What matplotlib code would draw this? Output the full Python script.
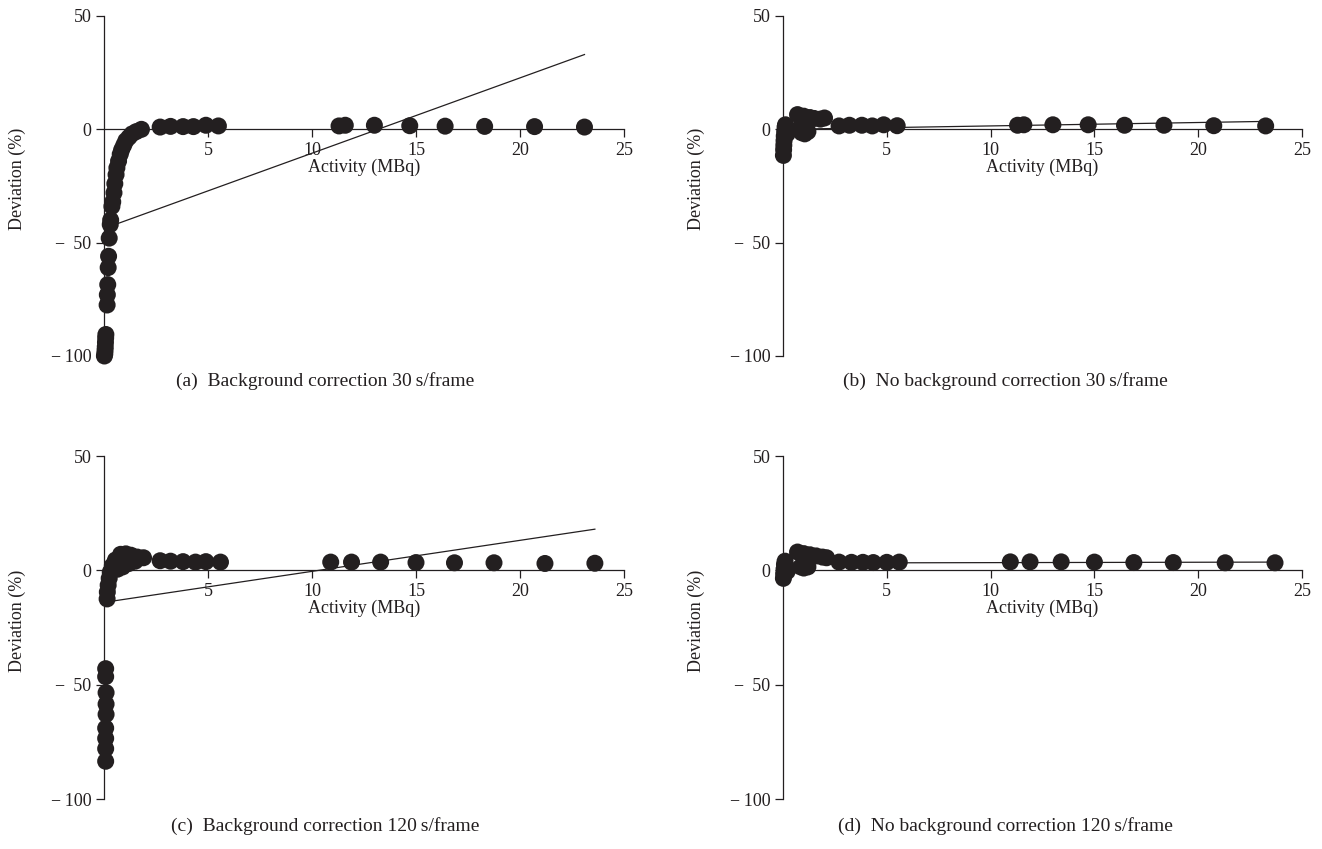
import matplotlib
matplotlib.use('Agg')
import matplotlib.pyplot as plt

plt.rcParams['font.family'] = ['Liberation Serif', 'DejaVu Serif']
plt.rcParams['axes.unicode_minus'] = True

# ---------------- data ----------------
x_ticks = [5, 10, 15, 20, 25]
y_ticks = [50, 0, -50, -100]
y_tick_labels = ['50', '0', '\u2212\u2009 50', '\u2212\u2009100']

# (a) Background correction 30 s/frame
a_x = [0.02, 0.04, 0.05, 0.06, 0.07, 0.08, 0.09,
       0.15, 0.16, 0.18, 0.20, 0.22, 0.25, 0.30, 0.32, 0.38, 0.42, 0.48, 0.52,
       0.58, 0.62, 0.70, 0.78, 0.85, 0.95, 1.05, 1.20, 1.35, 1.55, 1.80,
       2.7, 3.2, 3.8, 4.3, 4.9, 5.5,
       11.3, 11.6, 13.0, 14.7, 16.4, 18.3, 20.7, 23.1]
a_y = [-100, -99, -97.5, -96, -94, -92, -90.5,
       -77.5, -73, -68.5, -61, -56, -48, -42, -40, -34, -32, -28, -24,
       -20, -17, -14, -11, -9, -7, -5, -3.5, -2, -1, 0,
       1.0, 1.3, 1.2, 1.2, 1.8, 1.5,
       1.5, 1.8, 1.8, 1.6, 1.4, 1.3, 1.2, 1.0]
a_trend_x = [0.02, 23.1]
a_trend_y = [-43.7, 33.0]

# (b) No background correction 30 s/frame
b_x = [0.02, 0.03, 0.04, 0.05, 0.06, 0.08, 0.10, 0.12, 0.20, 0.15,
       0.7, 1.0, 1.3, 1.5, 1.8, 2.0,
       0.9, 1.05, 1.2, 0.8,
       2.7, 3.2, 3.8, 4.3, 4.85, 5.5,
       11.3, 11.6, 13.0, 14.7, 16.45, 18.35, 20.75, 23.25]
b_y = [-11.5, -9, -7, -5, -3, -1, 1, 2, -2, 0,
       6.5, 5.8, 5.2, 4.8, 4.5, 5.0,
       -1.5, -2, -1, 0.5,
       1.5, 1.8, 1.8, 1.5, 2.0, 1.6,
       1.8, 2.0, 2.0, 2.0, 1.8, 1.8, 1.6, 1.5]
b_trend_x = [0.02, 23.25]
b_trend_y = [0.0, 3.5]

# (c) Background correction 120 s/frame
c_x = [0.08, 0.08, 0.10, 0.10, 0.10, 0.08, 0.08, 0.08, 0.08,
       0.15, 0.16, 0.20, 0.25, 0.30, 0.40, 0.55, 0.80, 1.05, 1.30, 1.60, 1.90,
       0.90, 0.65, 1.20, 1.50,
       2.7, 3.2, 3.8, 4.4, 4.9, 5.6,
       10.9, 11.9, 13.3, 15.0, 16.85, 18.75, 21.2, 23.6]
c_y = [-43, -46.5, -53.5, -58.5, -63, -69, -73.5, -78, -83.5,
       -12.5, -9.5, -6.5, -3.5, -0.8, 2, 4.5, 7, 7.2, 6.6, 5.8, 5.5,
       1.5, 0.5, 3, 4,
       4.2, 4.0, 3.8, 3.6, 3.8, 3.6,
       3.6, 3.6, 3.6, 3.4, 3.3, 3.3, 3.0, 3.1]
c_trend_x = [0.08, 23.6]
c_trend_y = [-13.9, 18.0]

# (d) No background correction 120 s/frame
d_x = [0.02, 0.03, 0.05, 0.07, 0.10, 0.15, 0.20,
       0.7, 1.0, 1.3, 1.6, 1.9, 2.1,
       0.85, 1.0, 1.2,
       2.7, 3.3, 3.85, 4.35, 5.0, 5.6,
       10.95, 11.9, 13.4, 15.0, 16.9, 18.8, 21.3, 23.7]
d_y = [-3.5, -1.5, 0.5, 2.5, 4, 1, -0.5,
       8, 7.3, 6.8, 6.3, 5.8, 5.5,
       1.5, 1.0, 1.5,
       3.6, 3.5, 3.5, 3.4, 3.5, 3.6,
       3.7, 3.7, 3.7, 3.6, 3.4, 3.4, 3.3, 3.3]
d_trend_x = [0.02, 23.7]
d_trend_y = [3.2, 3.6]

captions = ['(a)  Background correction 30\u2009s/frame',
            '(b)  No background correction 30\u2009s/frame',
            '(c)  Background correction 120\u2009s/frame',
            '(d)  No background correction 120\u2009s/frame']

# ---------------- layout ----------------
W, H = 1322, 849
fig = plt.figure(figsize=(W / 100, H / 100), dpi=100)

INK = '#231f20'
FS = 13


def panel(rect, xs, ys, tx, ty, caption, cap_xy):
    left, right, top, bottom = rect
    ax = fig.add_axes([left / W, 1 - bottom / H, (right - left) / W, (bottom - top) / H])
    ax.plot(tx, ty, color=INK, lw=0.9, zorder=2, clip_on=False)
    ax.scatter(xs, ys, s=150, color=INK, edgecolors='none', zorder=3, clip_on=False)
    ax.set_xlim(0, 25)
    ax.set_ylim(-100, 50)
    for s in ('top', 'right'):
        ax.spines[s].set_visible(False)
    ax.spines['bottom'].set_position(('data', 0))
    for s in ('left', 'bottom'):
        ax.spines[s].set_linewidth(0.9)
        ax.spines[s].set_color(INK)
    ax.set_xticks(x_ticks)
    ax.set_xticklabels([str(t) for t in x_ticks])
    ax.set_yticks(y_ticks)
    ax.set_yticklabels(y_tick_labels)
    ax.tick_params(axis='both', direction='out', length=6, width=0.9, color=INK,
                   labelsize=FS, labelcolor=INK, pad=3)
    ax.set_xlabel('Activity (MBq)', fontsize=FS, color=INK, labelpad=0)
    ax.set_ylabel('Deviation (%)', fontsize=FS, color=INK)
    ax.yaxis.set_label_coords(-0.15, 0.52)
    ax.patch.set_visible(False)
    fig.text(cap_xy[0] / W, 1 - cap_xy[1] / H, caption, ha='center', va='center',
             fontsize=FS + 1, color=INK)
    return ax


panel((104, 624, 16, 356), a_x, a_y, a_trend_x, a_trend_y, captions[0], (325, 381))
panel((783, 1302, 16, 356), b_x, b_y, b_trend_x, b_trend_y, captions[1], (1005, 381))
panel((104, 624, 456, 799), c_x, c_y, c_trend_x, c_trend_y, captions[2], (325, 826))
panel((783, 1302, 456, 799), d_x, d_y, d_trend_x, d_trend_y, captions[3], (1005, 826))

fig.savefig('out.png', dpi=100)
